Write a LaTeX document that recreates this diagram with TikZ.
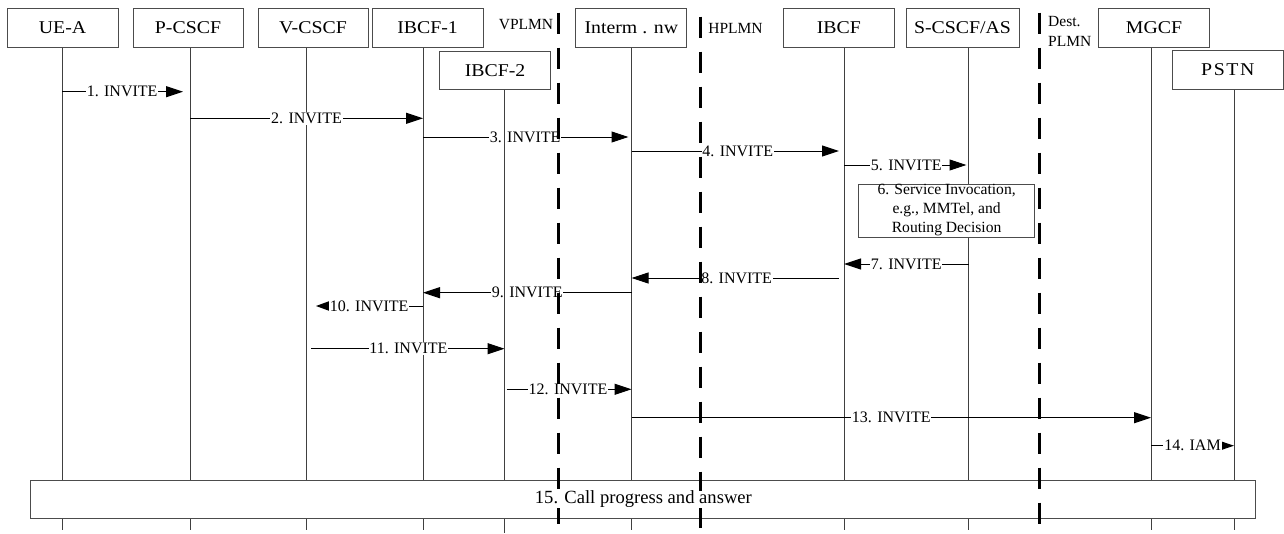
\documentclass[tikz,border=0pt]{standalone}
\usepackage{fontspec}
\setmainfont{Liberation Serif}
\newfontfamily\boxfont{Liberation Serif}[FakeStretch=1.1]
\usetikzlibrary{arrows.meta}

\begin{document}
\begin{tikzpicture}[x=1pt,y=-1pt,
  entity/.style={draw=black!70, line width=1pt, fill=white, minimum height=39pt,
    inner sep=0pt, font=\boxfont\fontsize{18}{20}\selectfont},
  life/.style={draw=black!75, line width=1pt},
  msg/.style={draw=black, line width=1pt, -{Triangle[length=17pt,width=11pt]}},
  smallhead/.style={-{Triangle[length=13pt,width=8.5pt]}},
  lbl/.style={fill=white, inner xsep=0.8pt, inner ysep=1pt, font=\fontsize{16}{18}\selectfont},
  border/.style={draw=black, line width=3pt, dash pattern=on 21pt off 14pt},
  region/.style={inner sep=0pt, font=\fontsize{15.5}{20}\selectfont},
  step6/.style={draw=black!70, line width=1pt, fill=white, align=center, inner sep=0pt},
]
\useasboundingbox (0,0) rectangle (1284,533);

% network entities
\node[entity, minimum width=111pt] (ue) at (62.5,27.8) {UE-A};
\node[entity, minimum width=110pt] (pcscf) at (188,27.8) {P-CSCF};
\node[entity, minimum width=110pt] (vcscf) at (313,27.8) {V-CSCF};
\node[entity, minimum width=111pt] (ibcf1) at (427.5,27.8) {IBCF-1};
\node[entity, minimum width=111pt, minimum height=38.3pt] (ibcf2) at (495,70.2) {IBCF-2};
\node[entity, minimum width=111pt] (interm) at (631.3,27.8) {Interm . nw};
\node[entity, minimum width=111pt] (ibcf) at (838.8,27.8) {IBCF};
\node[entity, minimum width=113pt] (scscf) at (962.5,27.8) {S-CSCF/AS};
\node[entity, minimum width=110.6pt] (mgcf) at (1154,27.8) {MGCF};
\node[entity, minimum width=111pt, minimum height=38.6pt] (pstn) at (1227.8,70) {\addfontfeature{LetterSpace=9}PSTN};

% lifeline tops
\coordinate (ueL) at (ue.south -| 62,0);
\coordinate (pcscfL) at (pcscf.south -| 190,0);
\coordinate (vcscfL) at (vcscf.south -| 306,0);
\coordinate (ibcf1L) at (ibcf1.south -| 423,0);
\coordinate (ibcf2L) at (ibcf2.south -| 504.5,0);
\coordinate (intermL) at (interm.south -| 631.5,0);
\coordinate (ibcfL) at (ibcf.south -| 844,0);
\coordinate (scscfL) at (scscf.south -| 968.5,0);
\coordinate (mgcfL) at (mgcf.south -| 1151,0);
\coordinate (pstnL) at (pstn.south -| 1234,0);

% lifelines
\foreach \l in {ueL,pcscfL,vcscfL,ibcf1L,intermL,ibcfL,scscfL,mgcfL,pstnL}
  \draw[life] (\l) -- (\l |- 0,530);

% messages
\draw[msg, shorten >=7pt] (ueL |- 0,91.7) -- node[lbl, pos=0.47] {1. INVITE} (pcscfL |- 0,91.7);
\draw[msg] (pcscfL |- 0,118.3) -- node[lbl] {2. INVITE} (ibcf1L |- 0,118.3);
\draw[msg, shorten >=3pt] (ibcf1L |- 0,137) -- node[lbl, pos=0.49] {3. INVITE} (intermL |- 0,137);
\draw[msg, shorten >=5pt] (intermL |- 0,151) -- node[lbl, pos=0.5] {4. INVITE} (ibcfL |- 0,151);
\draw[msg, shorten >=2pt] (ibcfL |- 0,165) -- node[lbl] {5. INVITE} (scscfL |- 0,165);
\draw[msg] (scscfL |- 0,264) -- node[lbl] {7. INVITE} (ibcfL |- 0,264);
\draw[msg, shorten <=5pt] (ibcfL |- 0,278) -- node[lbl, pos=0.505] {8. INVITE} (intermL |- 0,278);
\draw[msg] (intermL |- 0,292.7) -- node[lbl] {9. INVITE} (ibcf1L |- 0,292.7);
\draw[msg, -{Triangle[length=14pt,width=10pt]}, shorten >=10pt] (ibcf1L |- 0,306) -- node[lbl, pos=0.46] {10. INVITE} (vcscfL |- 0,306);
\draw[msg, shorten <=5pt] (vcscfL |- 0,348.7) -- node[lbl, pos=0.516] {11. INVITE} (ibcf2L |- 0,348.7);
\draw[msg, shorten <=2pt] (ibcf2L |- 0,389.3) -- node[lbl] {12. INVITE} (intermL |- 0,389.3);
\draw[msg] (intermL |- 0,417.7) -- node[lbl] {13. INVITE} (mgcfL |- 0,417.7);
\draw[msg, smallhead] (mgcfL |- 0,445.7) -- node[lbl] {14. IAM} (pstnL |- 0,445.7);

% IBCF-2 lifeline runs over the labels it crosses
\draw[life] (ibcf2L) -- (ibcf2L |- 0,533);

% procedure boxes
\node[step6, minimum width=176pt, minimum height=53pt, font=\fontsize{15.6}{19}\selectfont]
  (svc) at (946.6,210.5) {6. Service Invocation,\\e.g., MMTel, and\\Routing Decision};
\node[step6, minimum width=1225pt, minimum height=37.6pt] (prog) at (643.4,499.5) {};

% network borders
\coordinate (vplmnT) at (558,12.5);
\coordinate (hplmnT) at (700,16.5);
\coordinate (destT) at (1039.5,12.5);
\draw[border] (vplmnT) -- (vplmnT |- 0,533);
\draw[border] (hplmnT) -- (hplmnT |- 0,533);
\draw[border] (destT) -- (destT |- 0,533);

% text of the final step sits above the borders
\node[fill=white, inner sep=0.5pt, font=\fontsize{18.6}{20}\selectfont] (progtext) at (prog.center) {15. Call progress and answer};

\node[region] (vplmn) at (526,24.3) {VPLMN};
\node[region] (hplmn) at (735.5,28) {HPLMN};
\node[region, align=left, anchor=west] (dest) at (1048,31) {Dest.\\PLMN};
\end{tikzpicture}
\end{document}
